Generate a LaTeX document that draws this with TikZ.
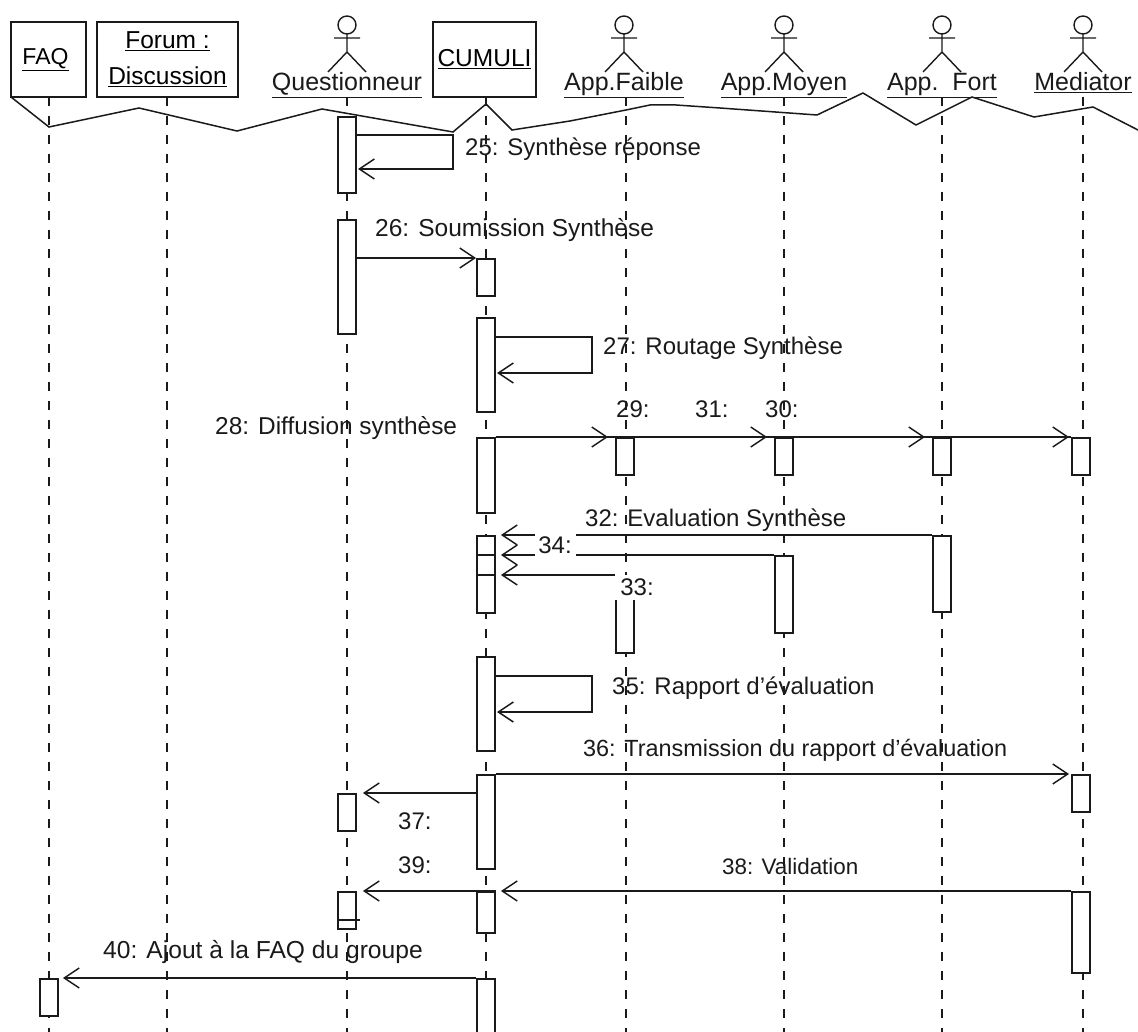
\documentclass[tikz,border=0pt]{standalone}
\usepackage{fontspec}
\setmainfont{Liberation Sans}
\usetikzlibrary{arrows.meta}
\definecolor{ink}{HTML}{1A1A1A}
\tikzset{
  lw/.style={line width=1.8pt,draw=ink},
  act/.style={lw,fill=white,minimum width=18pt,inner sep=0pt,anchor=north},
  objbox/.style={lw,fill=white,inner sep=0pt,align=center,font=\fontsize{24.5}{36}\selectfont},
  life/.style={lw,dash pattern=on 9pt off 10pt},
  msg/.style={lw,-{Straight Barb[length=15pt,width=20pt,line width=1.5pt]}},
  lab/.style={font=\fontsize{24}{28}\selectfont,text=ink,inner sep=0pt},
  labw/.style={lab,fill=white},
  actorname/.style={font=\fontsize{25}{28}\selectfont,text=ink,inner sep=0pt,anchor=base},
  actorline/.style={lw,line width=1.4pt}
}
\newcommand{\ulab}[1]{\underline{#1}}
% \activ{name}{x}{ytop}{ybottom}
\newcommand{\activ}[4]{\pgfmathsetlengthmacro{\acth}{(#4)-(#3)}\node[act,minimum height=\acth] (#1) at (#2,#3) {};}
% \actorfig{name}{x}{label}
\newcommand{\actorfig}[3]{%
  \draw[actorline] (#2,25) circle (9pt);
  \draw[actorline] (#2,34) -- (#2,52) (#2-13,38) -- (#2+13,38) (#2-19,72) -- (#2,52) -- (#2+19,72);
  \node[actorname] (#1) at (#2,91) {#3};}
\begin{document}
\begin{tikzpicture}[x=1pt,y=-1pt]
\useasboundingbox (0,0) rectangle (1138,1032);
\fill[white] (0,0) rectangle (1138,1032);
% object heads
\node[objbox,minimum width=75pt,minimum height=75pt] (faq) at (48.5,59.5) {\hspace*{-6pt}\fontsize{23}{36}\selectfont\ulab{FAQ}};
\node[objbox,minimum width=141pt,minimum height=75pt] (forum) at (167.5,59.5) {\ulab{Forum :}\\\ulab{Discussion}};
\node[objbox,minimum width=103pt,minimum height=75pt] (cumuli) at (484.5,59.5) {\raisebox{2pt}{\ulab{CUMULI}}};
\actorfig{quest}{347}{\ulab{Questionneur}}
\actorfig{faible}{624}{\ulab{App.Faible}}
\actorfig{moyen}{784}{\ulab{App.Moyen}}
\actorfig{fort}{942}{\ulab{App.\ \ Fort}}
\actorfig{media}{1083}{\ulab{Mediator}}
% lifelines
\coordinate (lfaq) at (49,1032);
\coordinate (lforum) at (167,1032);
\coordinate (lquest) at (347,1032);
\coordinate (lcum) at (486,1032);
\coordinate (lfaib) at (626,1032);
\coordinate (lmoy) at (784,1032);
\coordinate (lfort) at (942,1032);
\coordinate (lmed) at (1083,1032);
\draw[life] (49,97) -- (lfaq);
\draw[life] (167,97) -- (lforum);
\draw[life] (347,97) -- (lquest);
\draw[life] (486,97) -- (lcum);
\draw[life] (626,97) -- (lfaib);
\draw[life] (784,97) -- (lmoy);
\draw[life] (942,97) -- (lfort);
\draw[life] (1083,97) -- (lmed);
% tear line
\draw[lw,line width=1.5pt] (11,97) -- (49,127) -- (139,108) -- (237,131) -- (322,109) -- (453,132) -- (486,104) -- (512,130) -- (570,121) -- (626,110) -- (650,105) -- (676,105) -- (720,108) -- (817,115) -- (863,93) -- (916,125) -- (972,97) -- (1034,117) -- (1093,107) -- (1138,130);
% activations
\activ{qa}{347}{116}{192}
\activ{qb}{347}{219}{333}
\activ{qc}{347}{793}{830}
\activ{qd}{347}{891}{928}
\activ{ca}{486}{258}{295}
\activ{cb}{486}{317}{411}
\activ{cc}{486}{437}{512}
\activ{cd}{486}{535}{612}
\activ{ce}{486}{656}{750}
\activ{cf}{486}{774}{868}
\activ{cg}{486}{891}{932}
\activ{ch}{486}{978}{1050}
\activ{fa}{625}{437}{474}
\activ{fb}{625}{575}{652}
\activ{ma}{784}{437}{474}
\activ{mb}{784}{555}{632}
\activ{ta}{942}{437}{474}
\activ{tb}{942}{535}{611}
\activ{da}{1081}{437}{474}
\activ{db}{1081}{774}{811}
\activ{dc}{1081}{891}{972}
\activ{qa2}{49}{978}{1015}
% messages
\draw[msg] (qa.east |- 0,135) -- (453,135) -- (453,169) -- (358,169);
\draw[msg] (qb.east |- 0,258) -- (ca.north west);
\draw[msg] (cb.east |- 0,337) -- (592,337) -- (592,373) -- (497,373);
\draw[msg,shorten >=7pt] (cc.north east) -- (fa.north west);
\draw[msg,shorten >=7pt] (fa.north east) -- (ma.north west);
\draw[msg,shorten >=7pt] (ma.north east) -- (ta.north west);
\draw[msg,shorten >=2pt] (ta.north east) -- (da.north west);
\draw[lw] (cc.north east) -- (da.north west);
\draw[msg,shorten >=5pt] (tb.north west) -- (cd.north east);
\draw[msg,shorten >=5pt] (mb.north west) -- (cd.east |- mb.north);
\draw[msg,shorten >=5pt] (fb.north west) -- (cd.east |- fb.north);
\draw[lw] (cd.west |- mb.north) -- (cd.east |- mb.north);
\draw[lw] (cd.west |- fb.north) -- (cd.east |- fb.north);
\draw[msg] (ce.east |- 0,676) -- (592,676) -- (592,712) -- (497,712);
\draw[msg,shorten >=2pt] (cf.north east) -- (db.north west);
\draw[msg,shorten >=6pt] (cf.west |- qc.north) -- (qc.north east);
\draw[msg,shorten >=6pt] (cg.north west) -- (qd.north east);
\draw[msg,shorten >=5pt] (dc.north west) -- (cg.north east);
\draw[lw] (cg.north west) -- (cg.north east);
\draw[lw] (338,920) -- (360,920);
\draw[msg,shorten >=4pt] (ch.north west) -- (qa2.north east);
% labels
\node[lab,anchor=base west] (l25) at (465,156) {25: Synthèse réponse};
\node[lab,anchor=base west,font=\fontsize{24.5}{28}\selectfont] (l26) at (375,237) {26: Soumission Synthèse};
\node[lab,anchor=base west] (l27) at (603,355) {27: Routage Synthèse};
\node[lab,anchor=base west,font=\fontsize{24.4}{28}\selectfont] (l28) at (215,434) {28: Diffusion synthèse};
\node[lab,anchor=base west] (l29) at (616,417) {29:};
\node[lab,anchor=base west] (l31) at (695,417) {31:};
\node[lab,anchor=base west] (l30) at (765,417) {30:};
\node[lab,anchor=base west] (l32) at (585,526) {32: Evaluation Synthèse};
\node[labw,minimum width=41pt,minimum height=23pt] (l34) at (555,545.5) {34:};
\node[labw,minimum width=44pt,minimum height=25pt] (l33) at (637,587) {33:};
\node[lab,anchor=base west] (l35) at (612,694) {35: Rapport d'évaluation};
\node[lab,anchor=base west,font=\fontsize{23.4}{28}\selectfont] (l36) at (583,756) {36: Transmission du rapport d'évaluation};
\node[lab,anchor=base west] (l37) at (398,829) {37:};
\node[lab,anchor=base west] (l39) at (398,873) {39:};
\node[lab,anchor=base west,font=\fontsize{22.4}{28}\selectfont] (l38) at (722,874) {38: Validation};
\node[lab,anchor=base west,font=\fontsize{24.6}{28}\selectfont] (l40) at (103,958) {40: Ajout à la FAQ du groupe};
\end{tikzpicture}
\end{document}
